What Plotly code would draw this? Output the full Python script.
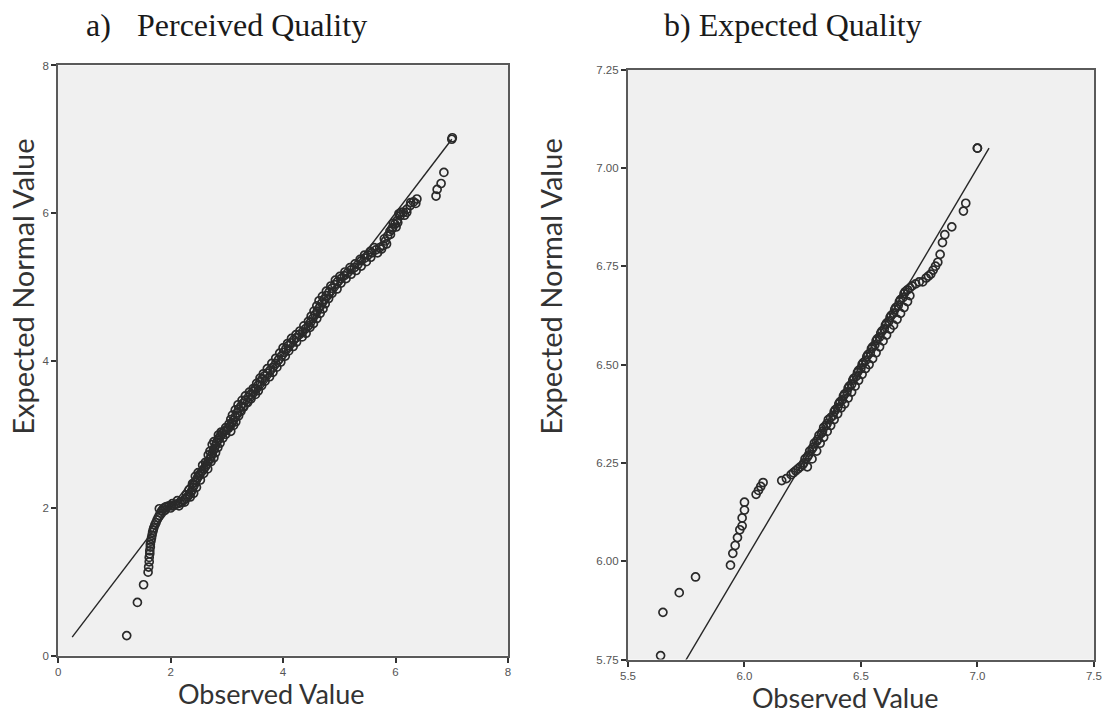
import plotly.graph_objects as go

# a) Perceived Quality: observed scores vs expected normal values
pq_observed = [
    1.22, 1.41, 1.52,
    1.60, 1.61, 1.62, 1.62, 1.63, 1.63, 1.64, 1.64, 1.65, 1.66, 1.67, 1.68, 1.69, 1.70,
    1.72, 1.74, 1.76, 1.78, 1.80, 1.82, 1.84, 1.87, 1.90, 1.93, 1.97, 2.01, 2.05, 2.09,
    2.13, 2.17, 2.20, 2.24, 2.27, 2.30, 2.33, 2.36, 2.38, 2.40, 2.42, 2.44, 2.46, 2.48,
    2.51, 2.53, 2.56, 2.59, 2.62, 2.64, 2.67, 2.70, 2.72, 2.74, 2.76, 2.78, 2.80, 2.82,
    2.84, 2.86, 2.89, 2.92, 2.95, 2.99, 3.03, 3.06, 3.09, 3.12, 3.15, 3.18, 3.21, 3.25,
    3.29, 3.33, 3.38, 3.42, 3.47, 3.51, 3.55, 3.59, 3.63, 3.67, 3.72, 3.77, 3.82, 3.87,
    3.92, 3.97, 4.01, 4.05, 4.09, 4.14, 4.19, 4.24, 4.29, 4.35, 4.40, 4.45, 4.49, 4.53,
    4.57, 4.61, 4.65, 4.69, 4.73, 4.77, 4.82, 4.87, 4.92, 4.97, 5.03, 5.09, 5.15, 5.21,
    5.27, 5.33, 5.39, 5.45, 5.51, 5.58, 5.65, 5.72, 5.78, 5.82, 5.86, 5.90, 5.95, 5.99,
    6.03, 6.08, 6.14, 6.20, 6.26, 6.32, 6.38,
    1.80, 1.90, 2.03, 2.15, 2.28, 2.35, 2.39, 2.46, 2.49, 2.59, 2.62, 2.72, 2.70, 2.80,
    2.77, 2.88, 2.90, 2.98, 3.04, 3.12, 3.10, 3.21, 3.20, 3.30, 3.33, 3.43, 3.47, 3.56,
    3.59, 3.68, 3.72, 3.82, 3.87, 3.96, 4.00, 4.10, 4.15, 4.24, 4.30, 4.41, 4.45, 4.54,
    4.55, 4.66, 4.64, 4.75, 4.77, 4.87, 4.93, 5.03, 5.10, 5.21, 5.28, 5.39, 5.45, 5.56,
    5.62, 5.75, 5.80, 5.91, 5.96, 6.04, 6.10, 6.20, 6.27, 6.36,
    2.00, 2.12, 2.25, 2.33, 2.41, 2.44, 2.53, 2.57, 2.66, 2.67, 2.77, 2.74, 2.84, 2.85,
    2.93, 2.98, 3.07, 3.07, 3.16, 3.15, 3.25, 3.27, 3.37, 3.40, 3.51, 3.53, 3.62, 3.65,
    3.76, 3.80, 3.89, 3.94, 4.04, 4.08, 4.18, 4.23, 4.34, 4.37, 4.48, 4.50, 4.60, 4.60,
    4.71, 4.70, 4.81, 4.85, 4.96, 5.01, 5.12, 5.19, 5.30, 5.37, 5.48, 5.55, 5.68, 5.84,
    5.93, 6.01, 6.06, 6.16,
    6.72, 6.74, 6.81, 6.86, 7.00, 7.01,
]
pq_expected = [
    0.27, 0.72, 0.96,
    1.13, 1.20, 1.27, 1.33, 1.38, 1.42, 1.47, 1.51, 1.55, 1.59, 1.63, 1.67, 1.70, 1.73,
    1.77, 1.80, 1.84, 1.87, 1.90, 1.93, 1.96, 1.99, 2.01, 2.02, 2.03, 2.03, 2.03, 2.05,
    2.06, 2.07, 2.08, 2.11, 2.13, 2.15, 2.18, 2.21, 2.24, 2.28, 2.31, 2.35, 2.38, 2.41,
    2.44, 2.47, 2.50, 2.53, 2.56, 2.59, 2.63, 2.67, 2.70, 2.74, 2.78, 2.81, 2.85, 2.89,
    2.92, 2.95, 2.98, 3.01, 3.04, 3.06, 3.08, 3.11, 3.15, 3.19, 3.24, 3.29, 3.34, 3.38,
    3.42, 3.46, 3.50, 3.54, 3.58, 3.62, 3.66, 3.71, 3.75, 3.79, 3.83, 3.87, 3.91, 3.96,
    4.01, 4.06, 4.11, 4.16, 4.20, 4.24, 4.28, 4.31, 4.35, 4.39, 4.43, 4.47, 4.52, 4.57,
    4.62, 4.67, 4.72, 4.78, 4.83, 4.88, 4.93, 4.98, 5.03, 5.07, 5.11, 5.15, 5.19, 5.23,
    5.26, 5.30, 5.35, 5.39, 5.43, 5.46, 5.50, 5.53, 5.56, 5.62, 5.69, 5.75, 5.80, 5.85,
    5.90, 5.96, 6.01, 6.05, 6.10, 6.15, 6.19,
    1.99, 1.97, 2.06, 2.03, 2.18, 2.15, 2.33, 2.28, 2.48, 2.47, 2.62, 2.63, 2.77, 2.75,
    2.90, 2.88, 3.03, 3.00, 3.14, 3.12, 3.26, 3.25, 3.40, 3.37, 3.52, 3.48, 3.62, 3.59,
    3.76, 3.72, 3.89, 3.84, 4.03, 3.98, 4.17, 4.13, 4.30, 4.25, 4.40, 4.37, 4.53, 4.50,
    4.67, 4.64, 4.81, 4.77, 4.94, 4.91, 5.09, 5.05, 5.20, 5.17, 5.31, 5.28, 5.43, 5.40,
    5.53, 5.51, 5.65, 5.71, 5.86, 5.87, 6.01, 6.01, 6.14, 6.13,
    2.00, 2.10, 2.08, 2.25, 2.20, 2.43, 2.38, 2.58, 2.53, 2.72, 2.68, 2.86, 2.82, 2.99,
    2.95, 3.09, 3.04, 3.20, 3.17, 3.33, 3.31, 3.46, 3.43, 3.57, 3.54, 3.69, 3.66, 3.82,
    3.78, 3.96, 3.91, 4.10, 4.06, 4.23, 4.19, 4.35, 4.32, 4.47, 4.45, 4.60, 4.57, 4.74,
    4.70, 4.87, 4.84, 5.01, 4.97, 5.14, 5.11, 5.26, 5.22, 5.37, 5.34, 5.48, 5.46, 5.58,
    5.78, 5.81, 5.99, 5.97,
    6.23, 6.32, 6.40, 6.55, 7.00, 7.02,
]
pq_line = [0.25, 7.0]

# b) Expected Quality
eq_observed = [
    5.64, 5.65, 5.72, 5.79, 5.94, 5.95, 5.96, 5.97, 5.98, 5.99, 5.99, 6.00, 6.00, 6.05,
    6.06, 6.07, 6.08,
    6.16, 6.18, 6.20, 6.21, 6.22, 6.23, 6.24, 6.25, 6.255, 6.26, 6.27, 6.275, 6.28, 6.29,
    6.295, 6.30, 6.31, 6.315, 6.32, 6.33, 6.335, 6.34, 6.35, 6.355, 6.36, 6.37, 6.38,
    6.385, 6.39, 6.40, 6.405, 6.41, 6.42, 6.425, 6.43, 6.44, 6.445, 6.45, 6.46, 6.465,
    6.47, 6.48, 6.485, 6.49, 6.50, 6.505, 6.51, 6.52, 6.525, 6.53, 6.54, 6.545, 6.55,
    6.56, 6.565, 6.57, 6.58, 6.585, 6.59, 6.60, 6.605, 6.61, 6.62, 6.625, 6.63, 6.64,
    6.645, 6.65, 6.66, 6.665, 6.67, 6.68, 6.685, 6.69, 6.70, 6.71, 6.72, 6.735, 6.75,
    6.765, 6.78, 6.79, 6.80, 6.81, 6.82, 6.83, 6.84, 6.85, 6.86, 6.89, 6.94, 6.95,
    6.27, 6.29, 6.31, 6.325, 6.34, 6.355, 6.37, 6.385, 6.40, 6.415, 6.43, 6.445, 6.46,
    6.475, 6.49, 6.505, 6.52, 6.535, 6.55, 6.565, 6.58, 6.595, 6.61, 6.625, 6.64, 6.655,
    6.67, 6.685, 6.70, 6.71,
    7.00, 7.00,
]
eq_expected = [
    5.76, 5.87, 5.92, 5.96, 5.99, 6.02, 6.04, 6.06, 6.08, 6.09, 6.11, 6.13, 6.15, 6.17,
    6.18, 6.19, 6.20,
    6.205, 6.21, 6.22, 6.225, 6.23, 6.235, 6.24, 6.245, 6.25, 6.26, 6.265, 6.27, 6.28,
    6.285, 6.29, 6.30, 6.305, 6.31, 6.32, 6.325, 6.33, 6.34, 6.345, 6.35, 6.36, 6.365,
    6.37, 6.38, 6.385, 6.39, 6.40, 6.405, 6.41, 6.42, 6.425, 6.43, 6.44, 6.445, 6.45,
    6.46, 6.465, 6.47, 6.48, 6.485, 6.49, 6.50, 6.505, 6.51, 6.52, 6.525, 6.53, 6.54,
    6.545, 6.55, 6.56, 6.565, 6.57, 6.58, 6.585, 6.59, 6.60, 6.605, 6.61, 6.62, 6.625,
    6.63, 6.64, 6.645, 6.65, 6.66, 6.665, 6.67, 6.68, 6.685, 6.69, 6.695, 6.70, 6.705,
    6.71, 6.71, 6.72, 6.725, 6.73, 6.74, 6.75, 6.76, 6.78, 6.81, 6.83, 6.85, 6.89, 6.91,
    6.24, 6.26, 6.28, 6.30, 6.315, 6.33, 6.345, 6.36, 6.375, 6.39, 6.40, 6.415, 6.43,
    6.445, 6.46, 6.475, 6.49, 6.50, 6.515, 6.53, 6.545, 6.56, 6.575, 6.59, 6.60, 6.615,
    6.63, 6.645, 6.66, 6.675,
    7.05, 7.05,
]
eq_line = [5.745, 7.05]

assert len(pq_observed) == len(pq_expected)
assert len(eq_observed) == len(eq_expected)

pq_ticks = [0, 2, 4, 6, 8]
eq_xticks = [5.5, 6.0, 6.5, 7.0, 7.5]
eq_xlabels = ["5.5", "6.0", "6.5", "7.0", "7.5"]
eq_yticks = [5.75, 6.00, 6.25, 6.50, 6.75, 7.00, 7.25]
eq_ylabels = ["5.75", "6.00", "6.25", "6.50", "6.75", "7.00", "7.25"]

W, H = 1107, 717
# the page keeps an 8px body margin around the figure; layout positions below are
# given in pixels of the final 1107x717 view and converted to figure paper units
PAD = 8
SX = (W + 2 * PAD) / W
SY = (H + 2 * PAD) / H


def px(x):
    return (x * SX - PAD) / W


def py(y):
    return 1 - (y * SY - PAD) / H


MARK = dict(symbol="circle-open", size=8, color="#2a2a2a", line=dict(width=1.7, color="#2a2a2a"))
LINE = dict(color="#262626", width=1.4)

fig = go.Figure()
fig.add_trace(go.Scatter(x=pq_line, y=pq_line, mode="lines", line=LINE, xaxis="x", yaxis="y",
                         showlegend=False, hoverinfo="skip"))
fig.add_trace(go.Scatter(x=pq_observed, y=pq_expected, mode="markers", marker=MARK,
                         xaxis="x", yaxis="y", showlegend=False))
fig.add_trace(go.Scatter(x=eq_line, y=eq_line, mode="lines", line=LINE, xaxis="x2", yaxis="y2",
                         showlegend=False, hoverinfo="skip"))
fig.add_trace(go.Scatter(x=eq_observed, y=eq_expected, mode="markers", marker=MARK,
                         xaxis="x2", yaxis="y2", showlegend=False))

tick_font = dict(family="Liberation Sans Narrow, Arial Narrow, sans-serif", size=11.5, color="#555555")
axis_common = dict(showgrid=False, zeroline=False, showline=True, mirror=True,
                   linecolor="#5a5a5a", linewidth=2, ticks="outside", ticklen=5,
                   tickcolor="#333333", tickwidth=1.5, tickfont=tick_font, fixedrange=True,
                   ticklabeloverflow="allow")

fig.update_layout(
    width=W, height=H,
    margin=dict(l=0, r=0, t=0, b=0),
    paper_bgcolor="white",
    plot_bgcolor="#f0f0f0",
    xaxis=dict(domain=[px(58), px(508)], range=[0, 8], tickvals=pq_ticks, anchor="y", **axis_common),
    yaxis=dict(domain=[py(654), py(67)], range=[0, 8], tickvals=pq_ticks, anchor="x", **axis_common),
    xaxis2=dict(domain=[px(628), px(1094)], range=[5.5, 7.5], tickvals=eq_xticks, ticktext=eq_xlabels,
                anchor="y2", **axis_common),
    yaxis2=dict(domain=[py(658), py(71)], range=[5.75, 7.25], tickvals=eq_yticks,
                ticktext=eq_ylabels, anchor="x2", **axis_common),
)

title_font = dict(family="Liberation Serif, Times New Roman, serif", size=32, color="#1a1a1a")
obs_font = dict(family="Lato, Open Sans, sans-serif", size=27, color="#333333")
exp_font = dict(family="Lato, Open Sans, sans-serif", size=29, color="#333333")

annotations = [
    dict(text="a)", x=px(84), y=py(27), xanchor="left", yanchor="middle", font=title_font),
    dict(text="Perceived Quality", x=px(135), y=py(27), xanchor="left", yanchor="middle", font=title_font),
    dict(text="b) Expected Quality", x=px(662), y=py(27), xanchor="left", yanchor="middle", font=title_font),
    dict(text="Observed Value", x=px(271), y=py(692), xanchor="center", yanchor="middle", font=obs_font),
    dict(text="Observed Value", x=px(846), y=py(696), xanchor="center", yanchor="middle", font=obs_font),
    dict(text="Expected Normal Value", x=px(23), y=py(287), xanchor="center", yanchor="middle",
         textangle=-90, font=exp_font),
    dict(text="Expected Normal Value", x=px(551), y=py(287), xanchor="center", yanchor="middle",
         textangle=-90, font=exp_font),
]
for a in annotations:
    a.update(xref="paper", yref="paper", showarrow=False)
fig.update_layout(annotations=annotations)

fig.write_html("out.html")
